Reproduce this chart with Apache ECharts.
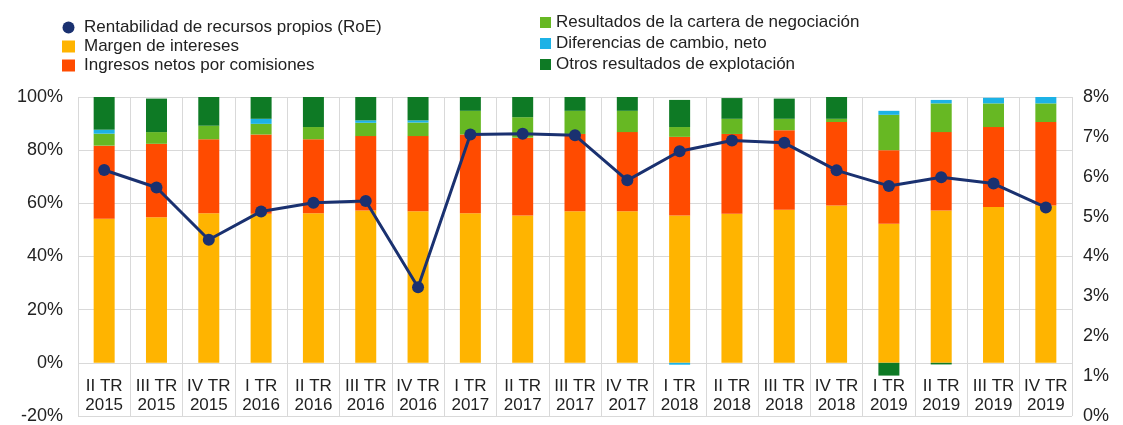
<!DOCTYPE html>
<html><head><meta charset="utf-8">
<script src="https://cdn.jsdelivr.net/npm/echarts@6/dist/echarts.min.js"></script>
<style>html,body{margin:0;padding:0;background:#fff}#c{width:1123px;height:425px}</style>
</head><body><div id="c"></div>
<script>
const categories = ["II TR\n2015","III TR\n2015","IV TR\n2015","I TR\n2016","II TR\n2016","III TR\n2016","IV TR\n2016","I TR\n2017","II TR\n2017","III TR\n2017","IV TR\n2017","I TR\n2018","II TR\n2018","III TR\n2018","IV TR\n2018","I TR\n2019","II TR\n2019","III TR\n2019","IV TR\n2019"];
const margen      = [54.2,54.8,56.3,56.1,56.3,57.3,57.0,56.3,55.4,57.0,57.0,55.4,56.1,57.6,59.2,52.3,57.3,58.6,59.2];
const comisiones  = [27.5,27.6,27.8,29.8,27.8,28.0,28.3,29.6,29.3,29.1,29.8,29.6,30.0,29.9,31.4,27.7,29.5,30.1,31.4];
const cartera     = [4.5,4.4,5.1,4.0,4.6,5.0,5.1,8.9,7.7,8.7,8.0,3.7,5.7,4.3,1.2,13.3,10.8,8.9,7.0];
const diferencias = [1.5,0,0,1.9,0,0.9,0.8,0,0,0,0,-0.7,0,0,0,1.5,1.3,2.1,2.4];
const otros       = [12.5,12.6,10.8,8.2,11.3,8.8,8.8,5.2,7.6,5.2,5.2,10.2,7.8,7.6,8.2,-4.8,-0.6,0,0];
const roe         = [6.17,5.73,4.42,5.13,5.35,5.39,3.23,7.06,7.08,7.04,5.91,6.64,6.91,6.85,6.16,5.77,5.99,5.83,5.23];
const leftTicks = {min:-20,max:100,interval:20};
const rightTicks = {min:0,max:8,interval:1};

const C = {margen:'#FFB400',com:'#FF4B00',cart:'#67B823',dif:'#1CB2E6',otros:'#0E7A25',roe:'#1A3170'};
const font = 'Liberation Sans, Arial, sans-serif';
const chart = echarts.init(document.getElementById('c'));
function bar(name,data,color){return {name,type:'bar',stack:'s',data,barWidth:21,itemStyle:{color},yAxisIndex:0};}
chart.setOption({
  animation:false,
  textStyle:{fontFamily:font},
  legend:[
    {orient:'vertical',left:57,top:13,itemGap:0,itemWidth:13,itemHeight:12,
     textStyle:{fontSize:17,lineHeight:19,color:'#222',fontFamily:font,padding:[0,0,0,4]},
     data:[{name:'Rentabilidad de recursos propios (RoE)',icon:'circle',itemStyle:{color:C.roe}},{name:'Margen de intereses',icon:'rect'},{name:'Ingresos netos por comisiones',icon:'rect'}]},
    {orient:'vertical',left:535,top:8,itemGap:2,itemWidth:11,itemHeight:11,
     textStyle:{fontSize:17,lineHeight:19,color:'#222',fontFamily:font,padding:[0,0,0,0]},
     data:[{name:'Resultados de la cartera de negociación',icon:'rect'},{name:'Diferencias de cambio, neto',icon:'rect'},{name:'Otros resultados de explotación',icon:'rect'}]}
  ],
  grid:{left:78,right:51,top:97,bottom:7,containLabel:false},
  xAxis:{type:'category',data:categories,
    axisLine:{show:false},axisTick:{show:false},
    splitLine:{show:true,lineStyle:{color:'#d9d9d9',width:1}},
    axisLabel:{inside:true,margin:1,fontSize:17,lineHeight:19,color:'#222',fontFamily:font,interval:0}},
  yAxis:[
    {type:'value',min:leftTicks.min,max:leftTicks.max,interval:leftTicks.interval,
     axisLabel:{formatter:'{value}%',fontSize:18,color:'#222',fontFamily:font,margin:15},
     axisLine:{show:false},axisTick:{show:false},
     splitLine:{lineStyle:{color:'#d9d9d9'}}},
    {type:'value',min:rightTicks.min,max:rightTicks.max,interval:rightTicks.interval,position:'right',
     axisLabel:{formatter:'{value}%',fontSize:18,color:'#222',fontFamily:font,margin:11},
     axisLine:{show:false},axisTick:{show:false},splitLine:{show:false}}
  ],
  series:[
    bar('Margen de intereses',margen,C.margen),
    bar('Ingresos netos por comisiones',comisiones,C.com),
    bar('Resultados de la cartera de negociación',cartera,C.cart),
    bar('Diferencias de cambio, neto',diferencias,C.dif),
    bar('Otros resultados de explotación',otros,C.otros),
    {name:'Rentabilidad de recursos propios (RoE)',type:'line',yAxisIndex:1,data:roe,
     symbol:'circle',symbolSize:12,z:5,
     lineStyle:{color:C.roe,width:3},itemStyle:{color:C.roe}}
  ]
});
</script></body></html>
